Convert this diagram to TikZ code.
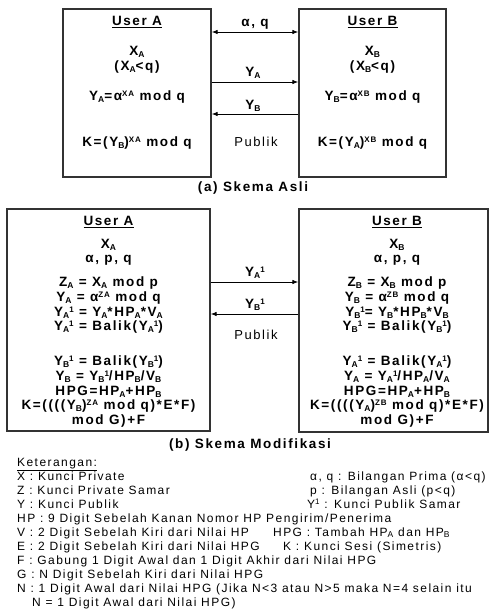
\documentclass[tikz,border=0pt]{standalone}
\usepackage{fontspec}
\setmainfont{Liberation Sans}[LetterSpace=12]
\usetikzlibrary{arrows.meta}
% compact indices that keep the tight line pitch clear
\newcommand{\sub}[1]{\raisebox{-1.6pt}{\fontsize{8.5}{8.5}\selectfont #1}}
\newcommand{\sps}[1]{\raisebox{3.6pt}{\fontsize{8}{8}\selectfont #1}}
\begin{document}
\begin{tikzpicture}[x=1pt,y=-1pt,
  frame/.style={draw=black!80,line width=1.3pt,inner sep=0pt},
  eq/.style={font=\fontsize{13.5}{15}\selectfont\bfseries,inner sep=0pt,text height=9pt,text depth=2pt},
  lbl/.style={font=\fontsize{13}{15}\selectfont,inner sep=0pt},
  leg/.style={font=\fontsize{12}{14}\selectfont,inner sep=0pt,anchor=west,text height=8.5pt,text depth=2.5pt},
  arr/.style={line width=0.9pt,-{Latex[length=6pt,width=4.5pt]}},
  darr/.style={line width=0.9pt,{Latex[length=6pt,width=4.5pt]}-{Latex[length=6pt,width=4.5pt]}}]
\useasboundingbox (0,0) rectangle (496,613);
\fill[white] (0,0) rectangle (496,613);

% ---- (a) original scheme ----
\node[frame,minimum width=148pt,minimum height=168pt] (ua) at (137,93) {};
\node[frame,minimum width=147pt,minimum height=168pt] (ub) at (372.5,93) {};

\node[eq] (a1) at (137,22) {\underline{User A}};
\node[eq] (a2) at (137,52) {X\sub{A}};
\node[eq] (a3) at (137,67) {(X\sub{A}<q)};
\node[eq] (a4) at (137,97) {Y\sub{A}=α\sps{XA} mod q};
\node[eq] (a5) at (137,143) {K=(Y\sub{B})\sps{XA} mod q};

\node[eq] (b1) at (372.5,22) {\underline{User B}};
\node[eq] (b2) at (372.5,52) {X\sub{B}};
\node[eq] (b3) at (372.5,67) {(X\sub{B}<q)};
\node[eq] (b4) at (372.5,97) {Y\sub{B}=α\sps{XB} mod q};
\node[eq] (b5) at (372.5,143) {K=(Y\sub{A})\sps{XB} mod q};

\coordinate (r1) at (0,32);
\coordinate (r2) at (0,82);
\coordinate (r3) at (0,114);
\draw[darr] (ua.east |- r1) -- (ub.west |- r1);
\draw[arr] (ua.east |- r2) -- (ub.west |- r2);
\draw[arr] (ub.west |- r3) -- (ua.east |- r3);
\node[eq] (l1) at (255,23) {α, q};
\node[eq] (l2) at (253,73) {Y\sub{A}};
\node[eq] (l3) at (253,106) {Y\sub{B}};
\node[lbl] (l4) at (256,142) {Publik};

\node[eq] (capa) at (253,188) {(a) Skema Asli};

% ---- (b) modified scheme ----
\node[frame,minimum width=203pt,minimum height=222pt] (ma) at (108.5,320) {};
\node[frame,minimum width=189pt,minimum height=223pt] (mb) at (393.5,320.5) {};

\node[eq] (c1) at (108.5,222) {\underline{User A}};
\node[eq] (c2) at (108.5,245) {X\sub{A}};
\node[eq] (c3) at (108.5,259) {α, p, q};
\node[eq] (c4) at (108.5,283) {Z\sub{A} = X\sub{A} mod p};
\node[eq] (c5) at (108.5,298) {Y\sub{A} = α\sps{ZA} mod q};
\node[eq] (c6) at (108.5,313) {Y\sub{A}\sps{1} = Y\sub{A}*HP\sub{A}*V\sub{A}};
\node[eq] (c7) at (108.5,327) {Y\sub{A}\sps{1} = Balik(Y\sub{A}\sps{1})};
\node[eq] (c8) at (108.5,362) {Y\sub{B}\sps{1} = Balik(Y\sub{B}\sps{1})};
\node[eq] (c9) at (108.5,377) {Y\sub{B} = Y\sub{B}\sps{1}/HP\sub{B}/V\sub{B}};
\node[eq] (c10) at (108.5,392) {HPG=HP\sub{A}+HP\sub{B}};
\node[eq] (c11) at (108.5,406) {K=((((Y\sub{B})\sps{ZA} mod q)*E*F)};
\node[eq] (c12) at (108.5,421) {mod G)+F};

\node[eq] (d1) at (397,222) {\underline{User B}};
\node[eq] (d2) at (397,245) {X\sub{B}};
\node[eq] (d3) at (397,259) {α, p, q};
\node[eq] (d4) at (397,283) {Z\sub{B} = X\sub{B} mod p};
\node[eq] (d5) at (397,298) {Y\sub{B} = α\sps{ZB} mod q};
\node[eq] (d6) at (397,313) {Y\sub{B}\sps{1}= Y\sub{B}*HP\sub{B}*V\sub{B}};
\node[eq] (d7) at (397,327) {Y\sub{B}\sps{1} = Balik(Y\sub{B}\sps{1})};
\node[eq] (d8) at (397,362) {Y\sub{A}\sps{1} = Balik(Y\sub{A}\sps{1})};
\node[eq] (d9) at (397,377) {Y\sub{A} = Y\sub{A}\sps{1}/HP\sub{A}/V\sub{A}};
\node[eq] (d10) at (397,392) {HPG=HP\sub{A}+HP\sub{B}};
\node[eq] (d11) at (397,406) {K=((((Y\sub{A})\sps{ZB} mod q)*E*F)};
\node[eq] (d12) at (397,421) {mod G)+F};

\coordinate (r4) at (0,282);
\coordinate (r5) at (0,314);
\draw[arr] (ma.east |- r4) -- (mb.west |- r4);
\draw[arr] (mb.west |- r5) -- (ma.east |- r5);
\node[eq] (l5) at (255,273) {Y\sub{A}\sps{1}};
\node[eq] (l6) at (255,305) {Y\sub{B}\sps{1}};
\node[lbl] (l7) at (256,335) {Publik};

\node[eq] (capb) at (250,445) {(b) Skema Modifikasi};

% ---- legend ----
\node[leg] (k0) at (17,463) {\underline{Keterangan:}};
\node[leg] (k1) at (17,477) {X : Kunci Private};
\node[leg] (k2) at (17,491) {Z : Kunci Private Samar};
\node[leg] (k3) at (17,505) {Y : Kunci Publik};
\node[leg] (k4) at (17,519) {HP : 9 Digit Sebelah Kanan Nomor HP Pengirim/Penerima};
\node[leg] (k5) at (17,533) {V : 2 Digit Sebelah Kiri dari Nilai HP};
\node[leg] (k6) at (17,547) {E : 2 Digit Sebelah Kiri dari Nilai HPG};
\node[leg] (k7) at (17,561) {F : Gabung 1 Digit Awal dan 1 Digit Akhir dari Nilai HPG};
\node[leg] (k8) at (17,575) {G : N Digit Sebelah Kiri dari Nilai HPG};
\node[leg] (k9) at (17,589) {N : 1 Digit Awal dari Nilai HPG (Jika N<3 atau N>5 maka N=4 selain itu};
\node[leg] (k10) at (32,603) {N = 1 Digit Awal dari Nilai HPG)};

\node[leg] (m1) at (310,477) {α, q : Bilangan Prima (α<q)};
\node[leg] (m2) at (310,491) {p : Bilangan Asli (p<q)};
\node[leg] (m3) at (307,505) {Y\sps{1} : Kunci Publik Samar};
\node[leg] (m4) at (273,533) {HPG : Tambah HP\sub{A} dan HP\sub{B}};
\node[leg] (m5) at (283,547) {K : Kunci Sesi (Simetris)};
\end{tikzpicture}
\end{document}
